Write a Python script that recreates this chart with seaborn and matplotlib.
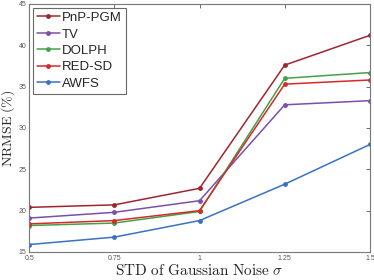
import pandas as pd
import seaborn as sns
import matplotlib.pyplot as plt

sigma = [0.5, 0.75, 1.0, 1.25, 1.5]
methods = ['PnP-PGM', 'TV', 'DOLPH', 'RED-SD', 'AWFS']
pnp_pgm = [20.4, 20.7, 22.7, 37.6, 41.2]
tv = [19.1, 19.8, 21.2, 32.8, 33.3]
dolph = [18.2, 18.5, 19.9, 36.0, 36.7]
red_sd = [18.4, 18.8, 20.0, 35.3, 35.8]
awfs = [15.9, 16.8, 18.8, 23.2, 28.0]
colors = ['#A0262E', '#7B4FAE', '#45A04A', '#D42A2A', '#3A72C2']

values = [pnp_pgm, tv, dolph, red_sd, awfs]
rows = []
for m, vals in zip(methods, values):
    for s, v in zip(sigma, vals):
        rows.append({'sigma': s, 'nrmse': v, 'method': m})
df = pd.DataFrame(rows)

sns.set_style('white')
plt.rcParams['mathtext.fontset'] = 'cm'
plt.rcParams['font.family'] = ['Liberation Sans', 'DejaVu Sans']

fig = plt.figure(figsize=(3.74, 2.80), dpi=100)
ax = fig.add_axes([0.078, 0.1, 0.911, 0.886])

sns.lineplot(data=df, x='sigma', y='nrmse', hue='method', hue_order=methods,
             palette=colors, marker='o', markersize=3.5, markeredgewidth=0,
             linewidth=1.1, ax=ax)

ax.set_xlim(0.5, 1.5)
ax.set_ylim(15, 45)
ax.set_xticks(sigma)
ax.set_xticklabels(['0.5', '0.75', '1', '1.25', '1.5'])
ax.set_yticks([15, 20, 25, 30, 35, 40, 45])
ax.tick_params(direction='in', length=3, width=0.6, labelsize=5, colors='#555555',
               top=True, right=True, pad=2)
for sp in ax.spines.values():
    sp.set_color('#777777')
    sp.set_linewidth(0.8)

ax.set_xlabel(r'$\mathrm{STD\ of\ Gaussian\ Noise}\ \sigma$', fontsize=11, labelpad=1)
ax.set_ylabel(r'$\mathrm{NRMSE\ (\%)}$', fontsize=10)
ax.yaxis.set_label_coords(-0.035, 0.5)

leg = ax.legend(loc='upper left', fontsize=9.5, labelspacing=0.32, handlelength=1.7,
                handletextpad=0.2, borderpad=0.3, borderaxespad=0.3, frameon=True,
                fancybox=False, edgecolor='#444444')
leg.get_frame().set_linewidth(0.8)

fig.savefig('out.png', dpi=100)
